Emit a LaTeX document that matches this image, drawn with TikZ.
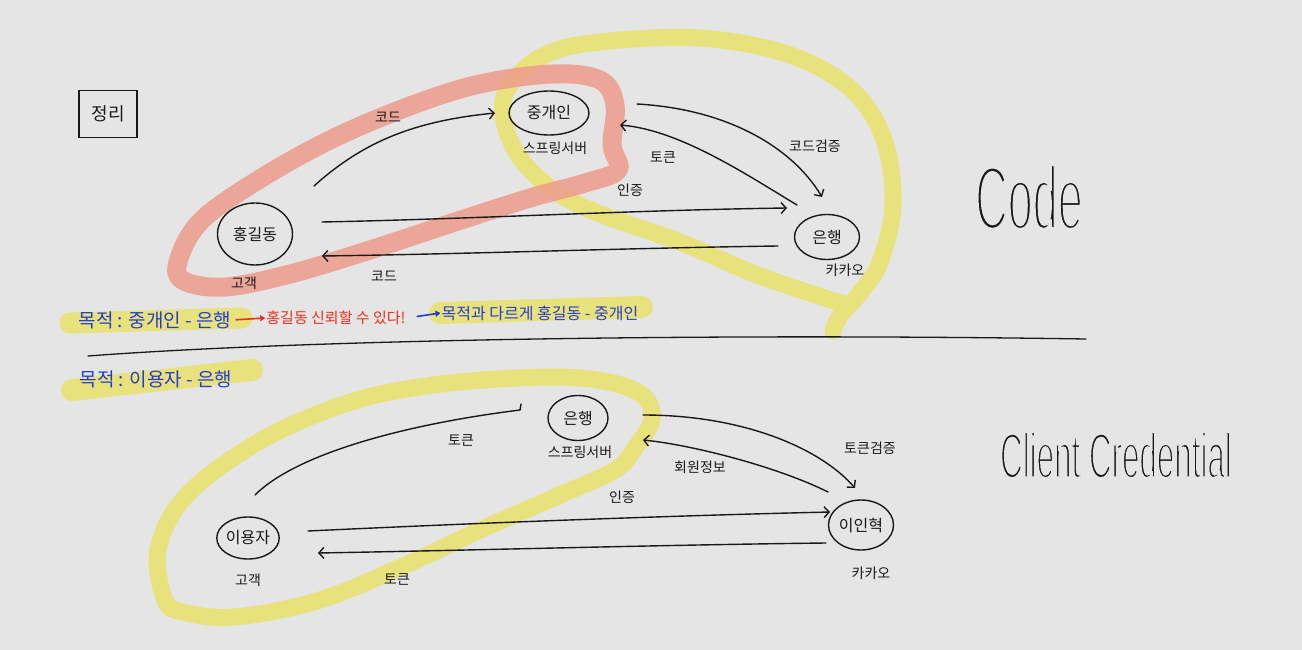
\documentclass[tikz,border=0pt]{standalone}
\usepackage{fontspec}
\setmainfont{Noto Sans CJK KR}
\newfontfamily\handfont{Liberation Sans}
\usetikzlibrary{shapes.geometric,arrows.meta}
\definecolor{bgc}{RGB}{229,229,229}
\definecolor{inkc}{RGB}{25,25,25}
\definecolor{hly}{RGB}{232,226,124}
\definecolor{hlr}{RGB}{238,156,140}
\definecolor{penblue}{RGB}{35,60,215}
\definecolor{penred}{RGB}{240,45,30}
\newcommand{\thinstart}[1]{\special{pdf:literal direct 2 Tr #1 w 0.898 0.898 0.898 RG}}
\newcommand{\thinstop}{\special{pdf:literal direct 0 Tr}}
\begin{document}
\begin{tikzpicture}[x=1pt,y=-1pt,
  ink/.style={draw=inkc,line width=1.4pt,line cap=round},
  ell/.style={ellipse,draw=inkc,line width=1.4pt,inner sep=0pt,font=\fontsize{16}{16}\selectfont,text=inkc},
  lbl/.style={font=\fontsize{14}{14}\selectfont,text=inkc,inner sep=1pt},
  flow/.style={ink,-{Straight Barb[length=5pt,width=11pt]}},
  hly/.style={draw=hly,line width=17pt,line cap=round,line join=round},
  hlr/.style={draw=hlr,line width=19pt,line cap=round,line join=round,opacity=0.85},
  pen/.style={font=\fontsize{#1}{#1}\selectfont,inner sep=1pt},
  penarrow/.style={line width=1.6pt,-{Triangle[length=5pt,width=6pt]}},
]
\fill[bgc] (0,0) rectangle (1302,650);
\useasboundingbox (0,0) rectangle (1302,650);

% ---------- highlights ----------
\draw[hly,line width=21pt] (70,323) -- (242,318);
\draw[hly,line width=22pt] (440,313) -- (642,307);
\draw[hly,line width=22pt] (72,390) -- (252,370);
\draw[hly] plot[smooth,tension=0.6] coordinates {(833,331) (840,316) (860,293) (880,262) (893,205) (884,140) (852,90) (790,55) (700,38) (600,42) (545,55) (510,85) (503,115) (518,155) (553,190) (600,214) (680,242) (760,276) (847,305)};
\draw[hly] plot[smooth cycle,tension=0.6] coordinates {(165,600) (158,550) (185,497) (250,447) (320,413) (390,392) (483,380) (580,378) (638,392) (652,418) (635,448) (615,470) (560,495) (480,530) (410,563) (320,600) (235,617) (183,612)};
\draw[hlr] plot[smooth cycle,tension=0.6] coordinates {(178,262) (200,222) (255,182) (330,140) (410,106) (480,84) (553,74) (600,80) (615,105) (612,145) (618,170) (585,183) (530,198) (455,222) (370,250) (290,274) (225,287) (184,281)};

% ---------- title box ----------
\node[draw=inkc,line width=1.5pt,minimum width=58pt,minimum height=47pt,font=\fontsize{18}{18}\selectfont,text=inkc] (summary) at (108,114) {정리};

% ---------- top diagram (Code) ----------
\node[ell,minimum width=80pt,minimum height=44pt] (broker) at (549,113) {중개인};
\node[ell,minimum width=75pt,minimum height=62pt] (hong) at (255,234) {홍길동};
\node[ell,minimum width=65pt,minimum height=45pt] (bank) at (827,237) {은행};
\node[lbl] (tspring) at (555,148) {스프링서버};
\node[lbl] (tcust) at (244,283) {고객};
\node[lbl] (tkakao) at (845,270) {카카오};
\node[lbl] (tcodeA) at (388,117) {코드};
\node[lbl] (tverify) at (815,146) {코드검증};
\node[lbl] (ttoken) at (663,157) {토큰};
\node[lbl] (tauth) at (630,190) {인증};
\node[lbl] (tcodeB) at (384,276) {코드};

\draw[flow] ([shift={(59,-48)}]hong.center) .. controls +(50,-45) and +(-80,8) .. ([shift={(-54,0)}]broker.center);
\draw[flow] ([shift={(88,-9)}]broker.center) .. controls +(90,5) and +(-30,-50) .. ([shift={(-5,-40)}]bank.center);
\draw[flow] ([shift={(-30,-32)}]bank.center) .. controls +(-50,-30) and +(60,5) .. ([shift={(71,12)}]broker.center);
\draw[flow] ([shift={(67,-12)}]hong.center) .. controls +(150,-3) and +(-150,2) .. ([shift={(-40,-29)}]bank.center);
\draw[flow] ([shift={(-49,9)}]bank.center) .. controls +(-150,2) and +(150,-2) .. ([shift={(67,22)}]hong.center);

% ---------- notes ----------
\node[pen=19,text=penblue] (goal1) at (155,320) {목적 : 중개인 - 은행};
\node[pen=15,text=penred] (trust) at (336,318) {홍길동 신뢰할 수 있다!};
\node[pen=16,text=penblue] (goal2) at (540,313) {목적과 다르게 홍길동 - 중개인};
\node[pen=19,text=penblue] (goal3) at (156,379) {목적 : 이용자 - 은행};
\draw[penarrow,draw=penred,fill=penred,shorten <=3pt] (goal1.east) -- (trust.west);
\draw[penarrow,draw=penblue,fill=penblue,shorten <=10pt] (trust.east) -- (goal2.west);

\draw[ink,line width=1.3pt] (88,356) .. controls (300,340) and (700,333) .. (1086,339);

% ---------- bottom diagram (Client Credential) ----------
\node[ell,minimum width=60pt,minimum height=45pt] (bank2) at (578,418) {은행};
\node[ell,minimum width=62pt,minimum height=42pt] (user) at (248,538) {이용자};
\node[ell,minimum width=65pt,minimum height=50pt] (kakao) at (861,525) {이인혁};
\node[lbl] (bspring) at (580,452) {스프링서버};
\node[lbl] (bcust) at (248,580) {고객};
\node[lbl] (bkakao) at (871,573) {카카오};
\node[lbl] (btok1) at (461,440) {토큰};
\node[lbl] (bverify) at (870,448) {토큰검증};
\node[lbl] (binfo) at (700,467) {회원정보};
\node[lbl] (bauth) at (622,497) {인증};
\node[lbl] (btok2) at (397,579) {토큰};

\draw[ink] ([shift={(7,-43)}]user.center) .. controls +(40,-40) and +(-120,15) .. ([shift={(-58,-8)}]bank2.center) -- ++(1,-6);
\draw[flow] ([shift={(65,-3)}]bank2.center) .. controls +(100,0) and +(-35,-40) .. ([shift={(-6,-37)}]kakao.center);
\draw[flow] ([shift={(-33,-33)}]kakao.center) .. controls +(-50,-25) and +(50,5) .. ([shift={(65,22)}]bank2.center);
\draw[flow] ([shift={(60,-7)}]user.center) .. controls +(170,-8) and +(-170,4) .. ([shift={(-31,-13)}]kakao.center);
\draw[flow] ([shift={(-35,18)}]kakao.center) .. controls +(-170,2) and +(170,-3) .. ([shift={(70,15)}]user.center);

% ---------- titles ----------
\node[font=\handfont\fontsize{90}{90}\selectfont,text=inkc,inner sep=0pt] (codetitle) at (1029,197) {\thinstart{4.3}\scalebox{0.5}[1]{Code}\thinstop};
\node[font=\handfont\fontsize{64}{64}\selectfont,text=inkc,inner sep=0pt] (cctitle) at (1116,455) {\thinstart{2.8}\scalebox{0.49}[1]{Client Credential}\thinstop};
\end{tikzpicture}
\end{document}
